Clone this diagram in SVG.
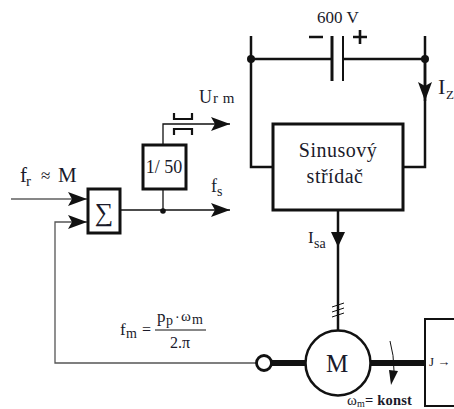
<svg xmlns="http://www.w3.org/2000/svg" width="454" height="409" viewBox="0 0 454 409">
<style>
text{font-family:"Liberation Serif","Times New Roman",serif;fill:#1a1a2a}
.l{fill:none;stroke:#111;stroke-linecap:butt}
.box{fill:#fff;stroke:#111;stroke-width:3}
</style>
<defs>
<marker id="a" markerUnits="userSpaceOnUse" markerWidth="20" markerHeight="14" refX="19" refY="7" orient="auto"><path d="M0 0L19 7L0 14L4 7Z" fill="#111"/></marker>
</defs>
<g id="connectors">
<path class="l" stroke-width="1.2" d="M11 199H87" marker-end="url(#a)"/>
<path class="l" stroke-width="1.3" style="stroke:#555" d="M257 363H55V222H87" marker-end="url(#a)"/>
<path class="l" stroke-width="1.3" d="M120 210H230" marker-end="url(#a)"/>
<path class="l" stroke-width="1.3" d="M163 189V210"/>
<path class="l" stroke-width="1.3" d="M163 145V124H230" marker-end="url(#a)"/>
<path class="l" stroke-width="2.2" d="M174 113V119H192V113M174 135V129H192V135"/>
<circle cx="163" cy="211" r="2.8" fill="#111"/>
<path class="l" stroke-width="2.5" d="M251 36V167H272M425 36V167H403M251 59H331M344 59H425"/>
<path class="l" stroke-width="2.5" d="M425 59V101" marker-end="url(#a)"/>
<path class="l" stroke-width="3" d="M332 36V81"/>
<path class="l" stroke-width="2" d="M343 36V81"/>
<circle cx="251" cy="59" r="4" fill="#111"/>
<circle cx="425" cy="59" r="4" fill="#111"/>
<path class="l" stroke-width="2.6" d="M309 37H323M353 37H367M360 30V44"/>
<path class="l" stroke-width="2.5" d="M338 210V330"/>
<path d="M331 232L338 247L345 232Z" fill="#111"/>
<path class="l" stroke-width="1" d="M332 307L344 303M332 312L344 308M332 317L344 313"/>
<path class="l" stroke-width="6" d="M272 363H306M370 363H425"/>
<path class="l" stroke-width="1" d="M390 341Q394 355 394 371"/>
<path d="M389 370L398 371L391 385Z" fill="#111"/>
</g>
<g id="sum"><rect class="box" x="88" y="189" width="32" height="44"/><text x="104" y="221" font-size="26" text-anchor="middle" font-family="'Liberation Sans',sans-serif">∑</text></g>
<g id="divider"><rect class="box" x="143" y="145" width="43" height="44"/><text x="164" y="173" font-size="18" text-anchor="middle">1/ 50</text></g>
<g id="inverter"><rect class="box" x="273" y="124" width="130" height="86"/><text x="338" y="157" font-size="20" text-anchor="middle" letter-spacing=".5">Sinusový</text><text x="335" y="183" font-size="20" text-anchor="middle" letter-spacing=".5">střídač</text></g>
<g id="motor"><circle cx="338" cy="363" r="32.500" fill="#fff" stroke="#111" stroke-width="2.500"/><text x="337" y="372" font-size="25" text-anchor="middle">M</text></g>
<g id="sensor"><circle cx="264" cy="363" r="7.500" fill="#fff" stroke="#111" stroke-width="2.800"/></g>
<g id="load"><path class="l" stroke-width="2" d="M454 319H425V406H454"/><text x="429" y="366" font-size="13">J →</text></g>
<g id="labels">
<text x="317" y="23" font-size="17">600 V</text>
<text x="438" y="94" font-size="22">I</text><text x="446" y="99" font-size="13">Z</text>
<text x="199" y="103" font-size="18">U</text><text x="213" y="103" font-size="15" letter-spacing=".5">r m</text>
<text x="20" y="182" font-size="21">f</text><text x="26" y="186" font-size="15">r</text><text x="41" y="181" font-size="17">≈</text><text x="58" y="182" font-size="21">M</text>
<text x="211" y="192" font-size="18">f</text><text x="217" y="196" font-size="14">s</text>
<text x="308" y="243" font-size="17">I</text><text x="314" y="248" font-size="14">sa</text>
<text x="120" y="335" font-size="17">f</text><text x="126" y="338" font-size="14">m</text><text x="142" y="335" font-size="16">=</text>
<path class="l" stroke-width="1" d="M155 330H206"/>
<text x="157" y="322" font-size="17">p</text><text x="166" y="325" font-size="14">p</text><text x="175" y="322" font-size="14">·</text><text x="181" y="321" font-size="15">ω</text><text x="192" y="324" font-size="14">m</text>
<text x="170" y="348" font-size="16">2.π</text>
<text x="347" y="405" font-size="15">ω</text><text x="357" y="407" font-size="10">m</text><text x="365" y="405" font-size="14.500" font-weight="bold" letter-spacing=".2">= konst</text>
</g>
</svg>
